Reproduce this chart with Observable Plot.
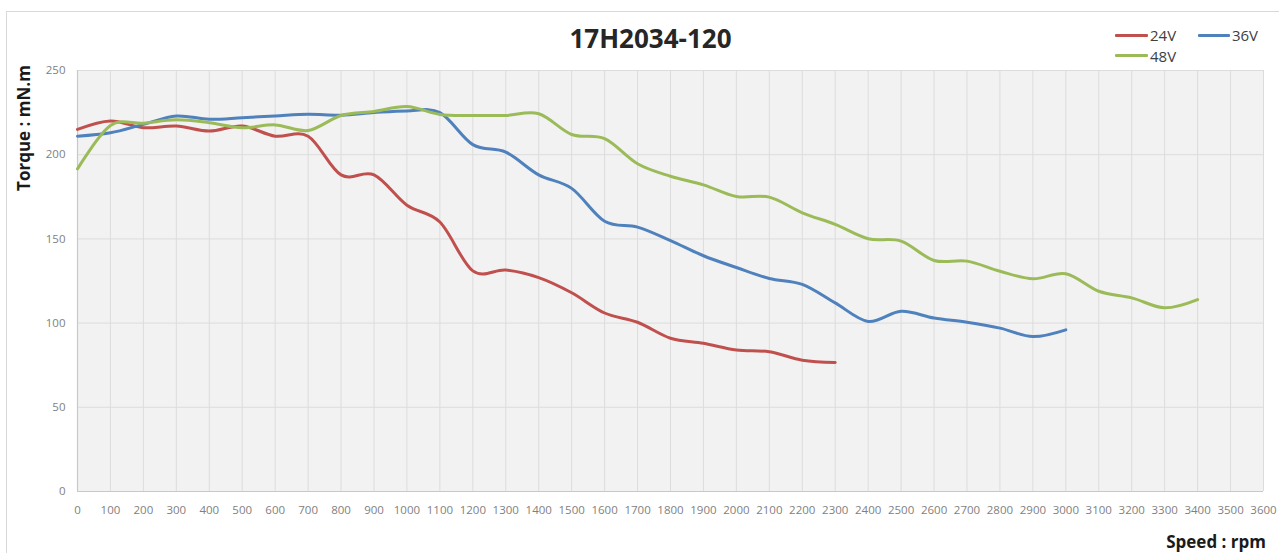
<!DOCTYPE html>
<html>
<head>
<meta charset="utf-8">
<script src="https://cdn.jsdelivr.net/npm/d3@7"></script>
<script src="https://cdn.jsdelivr.net/npm/@observablehq/plot@0.6"></script>
<style>
  html, body { margin: 0; padding: 0; background: #fff; }
  #wrap { position: relative; width: 1279px; height: 553px; overflow: hidden; font-family: "Open Sans", sans-serif; }
  #border { position: absolute; left: 6px; top: 11px; width: 1400px; height: 700px; border: 1px solid #d9d9d9; box-sizing: border-box; }
  #chart { position: absolute; left: 0; top: 0; }
  #legend { position: absolute; left: 1115px; top: 25px; display: grid; grid-template-columns: 83px 60px; grid-auto-rows: 20.5px; font-size: 15px; color: #404040; }
  .item { display: flex; align-items: center; line-height: 20px; }
  .sw { display: inline-block; width: 33px; height: 3px; margin-right: 2px; border-radius: 1px; }
</style>
</head>
<body>
<div id="wrap">
  <div id="border"></div>
  <div id="chart"></div>
  <div id="legend"></div>
</div>
<script>
const title = "17H2034-120";
const yTitle = "Torque : mN.m";
const xTitle = "Speed : rpm";

const seriesNames = ["24V", "36V", "48V"];
const seriesColors = ["#c0504d", "#4f81bd", "#9bbb59"];

const xTicks = [0,100,200,300,400,500,600,700,800,900,1000,1100,1200,1300,1400,1500,1600,1700,1800,1900,2000,2100,2200,2300,2400,2500,2600,2700,2800,2900,3000,3100,3200,3300,3400,3500,3600];
const yTicks = [0,50,100,150,200,250];

const speed24 = [0,100,200,300,400,500,600,700,800,900,1000,1100,1200,1300,1400,1500,1600,1700,1800,1900,2000,2100,2200,2300];
const torque24 = [215,220,216,217,214,217,211,211,188,188,170,160,131,131.5,127,118,106,100.5,91,88,84,83,78,76.6];

const speed36 = [0,100,200,300,400,500,600,700,800,900,1000,1100,1200,1300,1400,1500,1600,1700,1800,1900,2000,2100,2200,2300,2400,2500,2600,2700,2800,2900,3000];
const torque36 = [211,213,218,223,221,222,223,224,223.5,225,226,225,206,201.5,188,180,160.5,157,149,140,133,126.5,123,112,101,107,103,100.5,97,92,96];

const speed48 = [0,100,200,300,400,500,600,700,800,900,1000,1100,1200,1300,1400,1500,1600,1700,1800,1900,2000,2100,2200,2300,2400,2500,2600,2700,2800,2900,3000,3100,3200,3300,3400];
const torque48 = [191.6,217.3,218.7,220.7,219,216,217.7,214.4,223.3,225.7,228.6,223.9,223.3,223.3,224.3,212,209.5,194.6,187.2,182.1,175.2,174.8,165.5,158.6,150.1,148.7,137.2,136.8,130.8,126.3,129.3,118.9,115,109.1,114];

const data = [
  ...speed24.map((s, i) => ({series: "24V", speed: s, torque: torque24[i]})),
  ...speed36.map((s, i) => ({series: "36V", speed: s, torque: torque36[i]})),
  ...speed48.map((s, i) => ({series: "48V", speed: s, torque: torque48[i]}))
];

const plot = Plot.plot({
  width: 1279,
  height: 553,
  marginLeft: 77,
  marginRight: 16,
  marginTop: 70,
  marginBottom: 62,
  style: {fontFamily: "'Open Sans', sans-serif", fontSize: "11.5px", background: "transparent", overflow: "visible"},
  x: {domain: [0, 3600]},
  y: {domain: [0, 250]},
  color: {domain: seriesNames, range: seriesColors},
  marks: [
    Plot.frame({fill: "#f2f2f2", stroke: null}),
    Plot.gridX(xTicks, {stroke: "#dcdcdc", strokeOpacity: 1, strokeWidth: 1}),
    Plot.gridY(yTicks, {stroke: "#dcdcdc", strokeOpacity: 1, strokeWidth: 1}),
    Plot.ruleX([0], {stroke: "#c8c8c8", strokeWidth: 1.2}),
    Plot.ruleY([0], {stroke: "#c8c8c8", strokeWidth: 1.2}),
    Plot.axisX(xTicks, {tickSize: 0, tickPadding: 14, fill: "#7f7f7f", label: null, tickFormat: d => String(d)}),
    Plot.axisY(yTicks, {tickSize: 0, tickPadding: 12, fill: "#7f7f7f", label: null, tickFormat: d => String(d)}),
    Plot.line(data, {x: "speed", y: "torque", z: "series", stroke: "series", strokeWidth: 3, curve: "cardinal", strokeLinecap: "round"}),
    Plot.text([title], {frameAnchor: "top", dx: -20, dy: -23, lineAnchor: "bottom", fontSize: 26, fontWeight: "bold", fill: "#262626"}),
    Plot.text([yTitle], {frameAnchor: "top-left", dx: -47.5, dy: 57.5, rotate: -90, textAnchor: "middle", lineAnchor: "bottom", fontSize: 17, fontWeight: "bold", fill: "#1a1a1a"}),
    Plot.text([xTitle], {frameAnchor: "bottom-right", dx: 2.5, dy: 56, textAnchor: "end", lineAnchor: "bottom", fontSize: 17, fontWeight: "bold", fill: "#1a1a1a"})
  ]
});
document.getElementById("chart").appendChild(plot);

const legend = d3.select("#legend");
seriesNames.forEach((name, i) => {
  const item = legend.append("div").attr("class", "item");
  item.append("span").attr("class", "sw").style("background", seriesColors[i]);
  item.append("span").text(name);
});
</script>
</body>
</html>
